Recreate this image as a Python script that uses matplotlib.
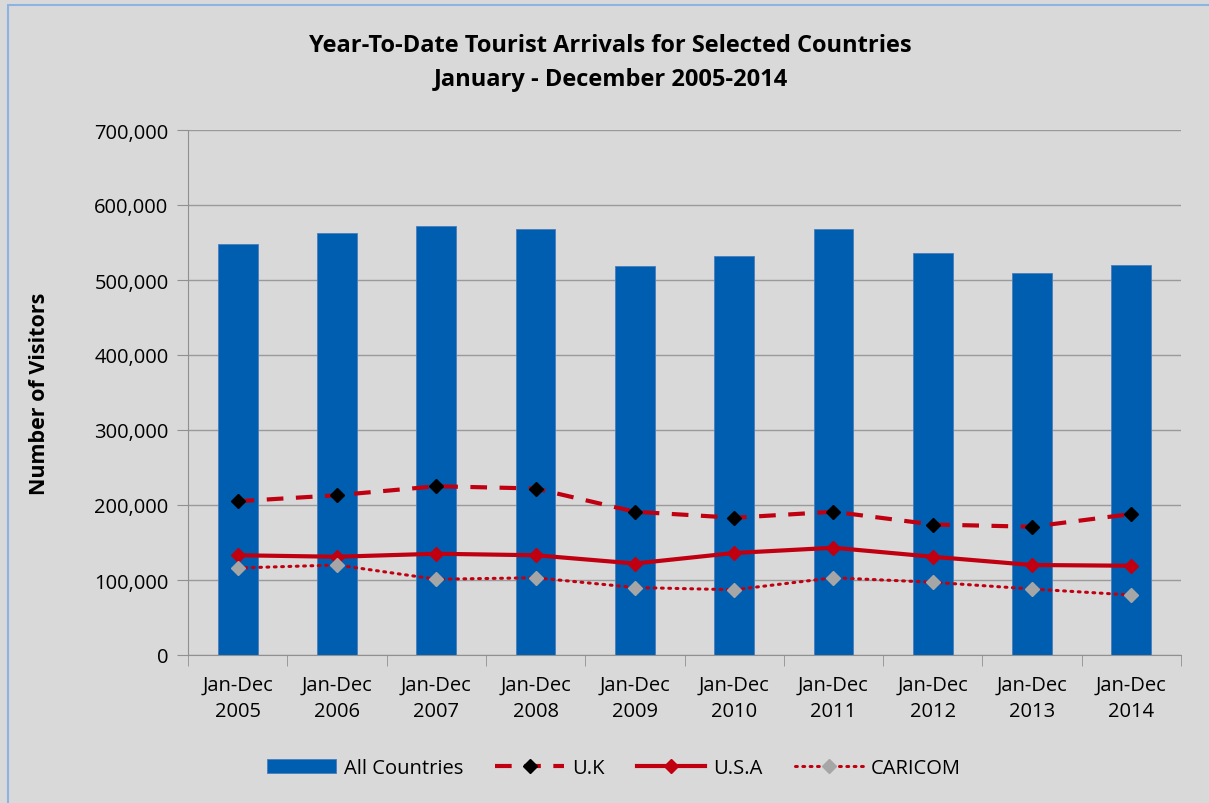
import matplotlib.pyplot as plt
import numpy as np
from matplotlib.patches import Rectangle
from matplotlib.ticker import FuncFormatter

years = ["2005", "2006", "2007", "2008", "2009", "2010", "2011", "2012", "2013", "2014"]
categories = ["Jan-Dec\n" + y for y in years]
all_countries = [548000, 563000, 572000, 568000, 519000, 532000, 568000, 536000, 509000, 520000]
uk = [205000, 213000, 225000, 222000, 191000, 183000, 191000, 174000, 171000, 188000]
usa = [133000, 131000, 135000, 133000, 122000, 136000, 143000, 131000, 120000, 119000]
caricom = [116000, 120000, 101000, 103000, 90000, 87000, 103000, 97000, 88000, 80000]

plt.rcParams['font.family'] = ['Open Sans', 'DejaVu Sans']

bg = "#d9d9d9"
fig = plt.figure(figsize=(12.09, 8.04), dpi=100, facecolor=bg)
fig.patches.append(Rectangle((8 / 1209, -0.01), 1.2, 1 - 6 / 804 + 0.01, transform=fig.transFigure,
                             facecolor="none", edgecolor="#8db3e2", linewidth=1.5))
ax = fig.add_axes((188 / 1209, 148 / 804, 993 / 1209, 525 / 804))
ax.set_facecolor(bg)

x = np.arange(len(categories))
bars = ax.bar(x, all_countries, width=0.4, color="#005eb0", edgecolor="#4a7ebb", linewidth=0.6,
              label="All Countries", zorder=2)
red = "#c00010"
l_uk, = ax.plot(x, uk, color=red, lw=3, ls=(0, (4, 3)), marker="D", ms=7, mfc="black", mec="black",
                label="U.K", zorder=3)
l_usa, = ax.plot(x, usa, color=red, lw=3, marker="D", ms=7, mfc=red, mec=red, label="U.S.A", zorder=3)
l_car, = ax.plot(x, caricom, color=red, lw=2.2, ls=(0, (0.6, 1.8)), dash_capstyle="round", marker="D",
                 ms=7, mfc="#a6a6a6", mec="#a6a6a6", label="CARICOM", zorder=3)

ax.set_xlim(-0.5, len(categories) - 0.5)
ax.set_ylim(0, 700000)
ax.set_yticks(np.arange(0, 700001, 100000))
ax.yaxis.set_major_formatter(FuncFormatter(lambda v, p: f"{int(v):,}"))
ax.set_xticks(x)
ax.set_xticklabels(categories, linespacing=1.45)
ax.set_xticks(np.arange(-0.5, len(categories)), minor=True)
ax.tick_params(axis="x", which="major", length=0, pad=14, labelsize=14.5)
ax.tick_params(axis="x", which="minor", length=8, color="#909090", direction="out")
ax.tick_params(axis="y", length=8, color="#909090", labelsize=14.5, pad=6)
ax.grid(axis="y", color="#9a9a9a", lw=1, zorder=0)
for side in ["top", "right"]:
    ax.spines[side].set_visible(False)
for side in ["left", "bottom"]:
    ax.spines[side].set_color("#909090")
ax.spines["bottom"].set_zorder(4)

ax.set_ylabel("Number of Visitors", fontsize=15.5, fontweight="bold", labelpad=32)
fig.text(0.505, 0.922, "Year-To-Date Tourist Arrivals for Selected Countries\nJanuary - December 2005-2014",
         ha="center", va="center", fontsize=17, fontweight="bold", linespacing=1.55)

fig.legend([bars, l_uk, l_usa, l_car], ["All Countries", "U.K", "U.S.A", "CARICOM"],
           loc="center", bbox_to_anchor=(0.508, 0.043), ncol=4, frameon=False, fontsize=14.5,
           handlelength=3.4, columnspacing=1.6, handletextpad=0.4)

fig.savefig("out.png", dpi=100, facecolor=bg)
